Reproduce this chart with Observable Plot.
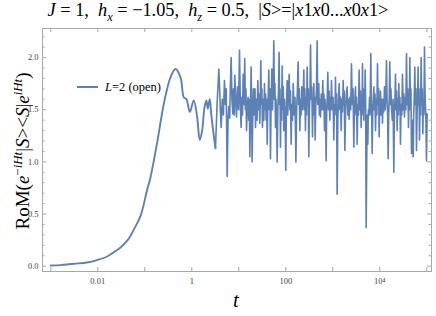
<!DOCTYPE html>
<html><head><meta charset="utf-8">
<script src="https://cdn.jsdelivr.net/npm/d3@7"></script>
<script src="https://cdn.jsdelivr.net/npm/@observablehq/plot@0.6"></script>
<style>
body{margin:0;background:#fff;}
#wrap{position:relative;width:436px;height:316px;font-family:"Liberation Serif",serif;color:#000;overflow:hidden;}
#wrap svg{position:absolute;left:0;top:0;}
#title{position:absolute;left:0;width:436px;top:0px;text-align:center;font-size:18.3px;white-space:pre;font-family:"Liberation Serif",serif;}
#ylab{position:absolute;left:-82px;top:139px;width:200px;height:24px;line-height:24px;text-align:center;font-size:19px;transform:rotate(-90deg);white-space:nowrap;font-family:"Liberation Serif",serif;}
#xlab{position:absolute;left:226px;top:288px;width:20px;text-align:center;font-size:21px;font-style:italic;font-family:"Liberation Serif",serif;}
#leg{position:absolute;left:77px;top:80px;font-size:12.5px;white-space:nowrap;font-family:"Liberation Serif",serif;}
#leg .sw{display:inline-block;width:21px;height:0;border-top:2px solid #5e81b5;vertical-align:middle;margin-right:7px;position:relative;top:-1px;}
sub,sup{font-size:68%;}
</style></head><body>
<div id="wrap">
<div id="title"><i>J</i> = 1,  <i>h<sub>x</sub></i> = −1.05,  <i>h<sub>z</sub></i> = 0.5,  |<i>S</i>&gt;=|<i>x</i>1<i>x</i>0...<i>x</i>0<i>x</i>1&gt;</div>
<div id="ylab">RoM(<i>e</i><sup>−<i>iHt</i></sup>|<i>S</i>&gt;&lt;<i>S</i>|<i>e</i><sup><i>iHt</i></sup>)</div>
<div id="xlab">t</div>
<div id="leg"><span class="sw"></span><i>L</i>=2 (open)</div>
</div>
<script>
// smooth early-time part
const smoothT = [0.001,0.0016,0.0031,0.0059,0.01,0.0158,0.0219,0.0304,0.0423,0.0497,0.0583,0.081,0.112,0.132,0.184,0.255,0.352,0.45,0.575,0.676,0.77,0.91,1.10,1.30,1.48,1.66,1.86,2.05,2.19,2.41,2.63,3.19];
const smoothV = [0.007,0.010,0.023,0.035,0.061,0.093,0.134,0.18,0.246,0.29,0.35,0.48,0.73,0.85,1.19,1.56,1.81,1.89,1.81,1.62,1.60,1.48,1.59,1.43,1.21,1.30,1.52,1.59,1.51,1.60,1.43,1.13];
// fluctuating late-time part
const noisyT = [3.19,3.45,3.76,3.9,4.05,4.22,4.45,4.7,4.96,5.2,5.4,5.66,5.9,6.13,6.4,6.6,6.88,7.15,7.46,7.7,8.0,8.23,8.6,8.93,9.4,9.9,10.35,10.8,11.2,11.6,12.0,12.4,12.9,13.4,13.8,14.2,14.6,15.2,15.8,16.3,16.8,17.2,17.7,18.3,18.8,19.2,19.8,20.4,20.9,21.5,22.1,22.7,23.6,24.5,25.4,26.3,27.1,28.0,28.7,29.4,30.2,31.0,31.9,33.0,34.1,35.2,36.2,37.2,38.2,39.2,40.2,41.3,42.4,43.5,44.7,46.0,47.2,48.3,49.3,50.4,52.1,53.8,55.6,57.2,58.8,60.4,62.1,63.8,65.5,67.7,70.0,72.2,73.8,75.4,77.1,79.3,81.5,83.7,86.0,88.4,90.8,93.7,96.8,100,103,107,110,114,118,122,126,130,134,139,144,150,157,164,170,177,183,188,194,199,206,212,219,226,234,242,248,255,262,270,277,285,293,301,309,318,327,336,347,358,370,378,386,395,404,412,421,435,450,465,477,490,504,518,532,547,568,590,613,630,648,666,684,703,722,742,763,784,810,837,865,889,913,938,975,1013,1052,1081,1111,1141,1173,1205,1238,1280,1323,1367,1413,1460,1508,1558,1610,1663,1709,1756,1804,1874,1947,2023,2090,2159,2230,2316,2406,2500,2597,2697,2802,2880,2959,3040,3124,3209,3297,3407,3520,3637,3758,3884,4014,4102,4193,4286,4380,4476,4575,4675,4778,4884,5005,5129,5270,5414,5563,5718,5877,6040,6175,6309,6447,6589,6733,6880,7070,7267,7470,7677,7890,8110,8380,8657,8940,9190,9440,9700,9910,10130,10350,10690,11040,11410,11790,12190,12590,13010,13450,13890,14270,14670,15070,15480,15900,16340,16800,17260,17740,18420,19150,19900,20460,21020,21590,22180,22790,23400,24060,24720,25410,26110,26820,27550,28480,29430,30400,31450,32490,33570,34690,35830,37000,38240,39510,40830,41740,42670,43590,44800,46040,47300,48610,49930,51290,52710,54150,55620,57190,58800,60390,62060,63760,65470,66960,68460,69970,71910,73880,75870,78000,80160,82360,84640,86960,89330,92330,95440,98620,101800];
const noisyV = [1.13,1.55,1.89,1.72,1.50,1.33,1.60,1.45,1.78,1.55,1.70,0.86,1.40,1.53,1.42,1.70,2.00,1.60,1.46,1.70,1.45,1.83,1.60,1.43,1.72,1.50,2.07,1.55,1.33,1.62,1.45,1.84,1.55,1.99,1.50,1.70,1.30,1.55,1.62,1.40,1.60,1.05,1.45,1.91,1.50,1.00,1.40,1.70,1.62,1.45,1.70,1.33,1.60,1.40,1.78,1.50,1.65,1.37,1.60,1.97,1.55,1.70,1.33,1.60,1.40,1.75,1.50,1.65,1.40,1.60,1.17,1.50,1.65,1.88,1.50,1.70,1.03,1.45,1.60,1.89,1.50,1.70,2.16,1.60,1.75,1.33,1.60,1.45,1.00,1.50,1.70,2.05,1.55,1.70,1.14,1.60,1.40,1.92,1.50,1.72,1.30,1.60,1.45,0.92,1.50,1.78,1.45,1.65,1.84,1.50,1.68,1.17,1.55,1.40,1.75,1.45,1.62,1.00,1.50,1.70,1.96,1.55,1.70,1.30,1.60,1.45,1.72,1.50,1.60,1.88,1.50,1.70,1.30,1.62,1.45,1.91,1.55,1.70,1.05,1.50,1.65,2.12,1.60,1.72,1.24,1.55,1.45,1.75,1.50,1.62,1.21,1.55,1.70,2.16,1.55,1.70,1.75,1.45,1.60,1.43,1.65,1.50,1.78,1.50,1.65,1.30,1.60,1.45,1.01,1.50,1.62,1.86,1.50,1.68,1.40,1.62,1.50,1.78,1.50,1.62,1.21,1.55,1.45,1.81,1.50,1.65,0.69,1.40,1.60,1.75,1.50,1.62,1.30,1.60,1.48,1.78,1.55,1.68,1.11,1.50,1.65,1.72,1.45,1.60,1.41,1.62,1.50,1.94,1.55,1.70,1.14,1.50,1.60,1.72,1.45,1.62,1.17,1.55,1.45,1.88,1.50,1.68,1.33,1.60,1.45,1.94,1.55,1.70,1.40,1.62,1.50,1.88,1.55,0.37,1.00,1.45,1.17,1.50,1.45,1.62,1.45,1.70,2.04,1.60,1.45,1.08,1.45,1.60,1.72,1.50,1.65,1.30,1.60,1.45,1.94,1.55,1.70,1.24,1.55,1.45,1.68,1.45,1.60,1.37,1.60,1.48,1.72,1.50,1.65,1.97,1.60,1.45,1.03,1.45,1.62,1.96,1.55,1.70,1.53,1.40,1.60,0.90,1.45,1.60,1.84,1.50,1.68,1.30,1.60,1.45,1.75,1.50,1.62,1.17,1.55,1.45,1.84,1.50,1.65,1.43,1.62,1.50,2.04,1.55,1.70,1.33,1.60,1.50,2.00,1.55,1.70,1.08,1.40,1.30,1.05,1.45,1.62,1.91,1.55,1.70,1.11,1.45,1.62,1.91,1.55,1.70,1.21,1.55,1.45,2.00,1.55,1.70,1.27,1.60,1.45,2.10,1.60,1.45,1.01,1.46];
const xTicks = [0.01, 1, 100, 10000];
const xTickLabels = ["0.01", "1", "100", "10⁴"];
const xTickMarks = [0.001, 0.01, 0.1, 1, 10, 100, 1000, 10000, 100000];
const yTicks = [0, 0.5, 1, 1.5, 2];
const yTickLabels = ["0.0", "0.5", "1.0", "1.5", "2.0"];
const yMinorTicks = [0.1,0.2,0.3,0.4,0.6,0.7,0.8,0.9,1.1,1.2,1.3,1.4,1.6,1.7,1.8,1.9,2.1,2.2];

const smooth = smoothT.map((t, i) => ({t, v: smoothV[i]}));
const noisy = noisyT.map((t, i) => ({t, v: noisyV[i]}));

const W = 436, H = 316, mL = 42, mR = 5, mT = 28, mB = 45;
const fw = W - mL - mR, fh = H - mT - mB;
const frameC = "#a8a8a8";
const col = "#5e81b5";

const chart = Plot.plot({
  width: W, height: H,
  marginLeft: mL, marginRight: mR, marginTop: mT, marginBottom: mB,
  style: {background: "transparent", fontFamily: "Liberation Serif, serif"},
  x: {type: "log", domain: [6.66e-4, 1.26e5]},
  y: {domain: [-0.051, 2.279]},
  marks: [
    Plot.frame({stroke: frameC}),
    Plot.tickX(xTickMarks, {x: d => d, insetTop: fh - 4, stroke: frameC}),
    Plot.tickX(xTickMarks, {x: d => d, insetBottom: fh - 4, stroke: frameC}),
    Plot.tickY(yTicks, {y: d => d, insetRight: fw - 4, stroke: frameC}),
    Plot.tickY(yTicks, {y: d => d, insetLeft: fw - 4, stroke: frameC}),
    Plot.tickY(yMinorTicks, {y: d => d, insetRight: fw - 2.5, stroke: frameC}),
    Plot.tickY(yMinorTicks, {y: d => d, insetLeft: fw - 2.5, stroke: frameC}),
    Plot.axisX({ticks: xTicks, tickSize: 0, tickPadding: 6, tickFormat: d => xTickLabels[xTicks.indexOf(d)], fontSize: 8.5, fill: "#444", label: null, fontFamily: "Liberation Serif, serif"}),
    Plot.axisY({ticks: yTicks, tickSize: 0, tickPadding: 4, tickFormat: d => yTickLabels[yTicks.indexOf(d)], fontSize: 8.5, fill: "#444", label: null, fontFamily: "Liberation Serif, serif"}),
    Plot.line(noisy, {x: "t", y: "v", stroke: col, strokeWidth: 1.6, strokeLinejoin: "round"}),
    Plot.line(smooth, {x: "t", y: "v", stroke: col, strokeWidth: 1.9, curve: "catmull-rom"})
  ]
});
document.getElementById("wrap").prepend(chart);
</script>
</body></html>
